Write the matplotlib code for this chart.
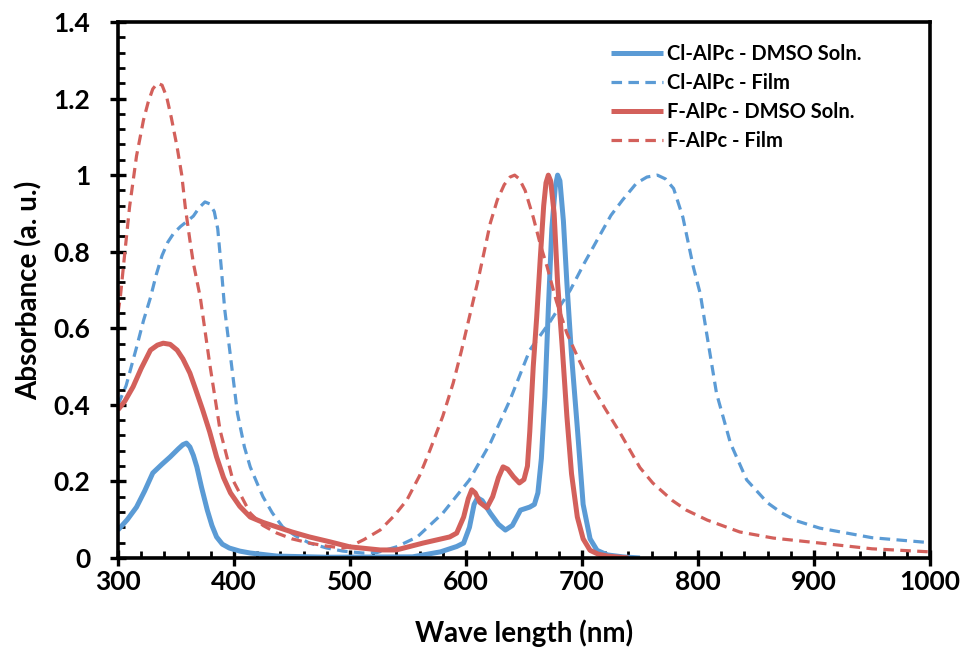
import numpy as np
import matplotlib
matplotlib.use("Agg")
from matplotlib import pyplot as plt
from matplotlib.ticker import MultipleLocator, FixedLocator, FixedFormatter

# values (wavelength in nm, absorbance)
cl_soln_x = [300, 308, 316, 323, 330, 338, 345, 352, 356, 359, 362, 365, 368, 372, 377, 381,
             385, 390, 396, 405, 414, 437, 480, 554, 578, 592, 598, 603, 607, 610, 614, 621,
             628, 634, 640, 647, 655, 659, 662, 665, 668, 671, 674, 677, 679, 681, 684, 687,
             691, 696, 701, 707, 713, 722, 735, 750]
cl_soln_y = [0.073, 0.10, 0.133, 0.175, 0.222, 0.245, 0.264, 0.285, 0.296, 0.30, 0.29, 0.268,
             0.238, 0.185, 0.125, 0.085, 0.055, 0.036, 0.026, 0.018, 0.013, 0.005, 0.002,
             0.003, 0.016, 0.03, 0.039, 0.08, 0.14, 0.157, 0.15, 0.117, 0.088, 0.073, 0.085,
             0.125, 0.133, 0.14, 0.17, 0.26, 0.42, 0.65, 0.86, 0.97, 1.0, 0.985, 0.88, 0.718,
             0.53, 0.34, 0.14, 0.05, 0.02, 0.008, 0.003, 0.0]

cl_film_x = [300, 307, 316, 322, 328, 333, 338, 343, 348, 354, 359, 365, 370, 375, 379, 383,
             386, 389, 392, 396, 403, 409, 414, 420, 425, 433, 442, 453, 465, 480, 494, 511,
             523, 540, 558, 580, 603, 621, 638, 655, 672, 690, 702, 713, 725, 735, 747, 756,
             765, 772, 779, 787, 796, 802, 808, 816, 828, 842, 860, 872, 885, 905, 950, 1000]
cl_film_y = [0.40, 0.45, 0.55, 0.62, 0.68, 0.74, 0.79, 0.825, 0.848, 0.866, 0.878, 0.893, 0.915,
             0.93, 0.925, 0.905, 0.86, 0.76, 0.65, 0.551, 0.378, 0.29, 0.238, 0.195, 0.16,
             0.118, 0.081, 0.058, 0.039, 0.026, 0.018, 0.013, 0.014, 0.029, 0.055, 0.117, 0.204,
             0.30, 0.413, 0.543, 0.615, 0.70, 0.77, 0.83, 0.895, 0.935, 0.979, 0.995, 1.0, 0.99,
             0.965, 0.89, 0.76, 0.69, 0.577, 0.43, 0.30, 0.204, 0.144, 0.118, 0.097, 0.078,
             0.053, 0.04]

f_soln_x = [300, 306, 313, 320, 328, 334, 339, 345, 351, 356, 362, 367, 373, 379, 385, 391,
            397, 405, 414, 425, 437, 450, 465, 483, 500, 526, 540, 563, 586, 592, 598, 602,
            605, 608, 612, 618, 623, 628, 632, 636, 641, 646, 650, 653, 655, 658, 661, 664,
            667, 669, 671, 673, 676, 679, 683, 687, 691, 696, 701, 707, 714, 722, 740]
f_soln_y = [0.387, 0.41, 0.447, 0.495, 0.543, 0.556, 0.561, 0.558, 0.543, 0.52, 0.483, 0.44,
            0.387, 0.33, 0.264, 0.21, 0.17, 0.135, 0.107, 0.093, 0.081, 0.068, 0.055, 0.042,
            0.029, 0.021, 0.021, 0.039, 0.055, 0.065, 0.107, 0.155, 0.178, 0.17, 0.145, 0.131,
            0.16, 0.21, 0.238, 0.232, 0.212, 0.196, 0.205, 0.24, 0.33, 0.5, 0.63, 0.78, 0.92,
            0.98, 1.0, 0.985, 0.9, 0.718, 0.55, 0.37, 0.22, 0.107, 0.05, 0.02, 0.01, 0.005,
            0.0]

f_film_x = [300, 302, 306, 310, 316, 322, 326, 330, 334, 338, 342, 346, 351, 355, 358, 362,
            365, 371, 379, 388, 399, 414, 425, 437, 450, 465, 480, 494, 500, 512, 526, 538,
            549, 560, 569, 580, 589, 596, 603, 610, 616, 621, 627, 633, 638, 642, 646, 651,
            658, 664, 670, 678, 687, 697, 707, 720, 733, 750, 761, 778, 790, 808, 836, 865,
            905, 950, 1000]
f_film_y = [0.64, 0.68, 0.80, 0.917, 1.05, 1.144, 1.19, 1.225, 1.24, 1.235, 1.204, 1.15, 1.073,
            1.0, 0.917, 0.83, 0.77, 0.68, 0.509, 0.334, 0.204, 0.117, 0.085, 0.065, 0.05, 0.039,
            0.031, 0.026, 0.03, 0.048, 0.073, 0.11, 0.151, 0.215, 0.282, 0.37, 0.457, 0.54,
            0.63, 0.72, 0.804, 0.875, 0.935, 0.975, 0.995, 1.0, 0.99, 0.96, 0.89, 0.82, 0.76,
            0.67, 0.587, 0.52, 0.457, 0.39, 0.326, 0.236, 0.196, 0.15, 0.125, 0.099, 0.068,
            0.052, 0.039, 0.024, 0.016]

blue = '#5b9bd5'
red = '#d3605b'

plt.rcParams['font.family'] = ['Lato', 'DejaVu Sans']
plt.rcParams['font.weight'] = 'bold'

fig = plt.figure(figsize=(9.63, 6.54), dpi=100)
ax = fig.add_axes([0.1225, 0.1468, 0.8432, 0.8196])

ax.plot(cl_soln_x, cl_soln_y, color=blue, lw=3.6, label='Cl-AlPc - DMSO Soln.',
        solid_joinstyle='round', solid_capstyle='butt')
ax.plot(cl_film_x, cl_film_y, color=blue, lw=2.3, ls=(0, (3.3, 2.0)), label='Cl-AlPc - Film')
ax.plot(f_soln_x, f_soln_y, color=red, lw=3.6, label='F-AlPc - DMSO Soln.',
        solid_joinstyle='round', solid_capstyle='butt')
ax.plot(f_film_x, f_film_y, color=red, lw=2.3, ls=(0, (3.3, 2.0)), label='F-AlPc - Film')

ax.set_xlim(300, 1000)
ax.set_ylim(0, 1.4)
ax.xaxis.set_major_locator(MultipleLocator(100))
ax.xaxis.set_minor_locator(MultipleLocator(20))
yt = [0, 0.2, 0.4, 0.6, 0.8, 1.0, 1.2, 1.4]
ax.yaxis.set_major_locator(FixedLocator(yt))
ax.yaxis.set_major_formatter(FixedFormatter(['0', '0.2', '0.4', '0.6', '0.8', '1', '1.2', '1.4']))
ax.yaxis.set_minor_locator(MultipleLocator(0.04))

ax.tick_params(which='major', direction='inout', length=12, width=2.4, labelsize=19)
ax.tick_params(axis='y', which='major', pad=14)
ax.tick_params(axis='x', which='major', pad=3)
ax.tick_params(which='minor', direction='in', length=5, width=2.0)
for lab in ax.get_xticklabels() + ax.get_yticklabels():
    lab.set_fontweight('bold')
for sp in ax.spines.values():
    sp.set_linewidth(2.6)
    sp.set_color('black')

ax.set_xlabel('Wave length (nm)', fontsize=20, fontweight='bold', labelpad=18)
ax.set_ylabel('Absorbance (a. u.)', fontsize=20, fontweight='bold', labelpad=8)

leg = ax.legend(loc='upper right', bbox_to_anchor=(0.938, 0.993), frameon=False,
                fontsize=14.5, handlelength=2.6, handletextpad=0.2, labelspacing=0.45)
for t in leg.get_texts():
    t.set_fontweight('bold')

fig.savefig('out.png', dpi=100)
